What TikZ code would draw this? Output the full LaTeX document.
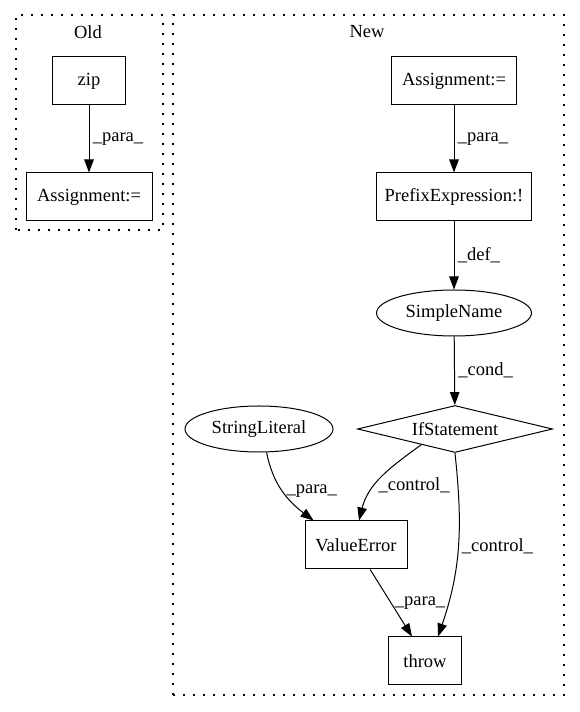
\documentclass[tikz,border=0pt]{standalone}
\usepackage{fontspec}
\setmainfont{Liberation Serif}
\usetikzlibrary{shapes.geometric,arrows.meta}

\begin{document}
\begin{tikzpicture}[x=1pt,y=1pt,
        every node/.style={font=\fontsize{18.5}{22}\selectfont},
        box/.style={shape=rectangle,draw=black,line width=1pt,minimum height=48pt,inner sep=0pt},
        oval/.style={shape=ellipse,draw=black,line width=1pt,minimum height=46pt,inner sep=0pt},
        cluster/.style={draw=black,line width=1.1pt,dash pattern=on 2pt off 8pt},
        link/.style={-{Triangle[length=13pt,width=9.5pt]},line width=1pt}]
                \useasboundingbox (0,0) rectangle (580,712);

                % old version
                \draw[cluster] (16,482) rectangle (163,697);
                \node (oldlabel) at (88,680) {Old};
                \node[box, minimum width=73pt] (zip) at (89,631) {zip};
                \node[box, minimum width=126pt] (asgold) at (89,515) {Assignment:=};

                % new version
                \draw[cluster] (173,17) rectangle (564,697);
                \node (newlabel) at (367,680) {New};
                \node[box, minimum width=125pt] (asgnew) at (454,631) {Assignment:=};
                \node[box, minimum width=155pt] (prefix) at (454,515) {PrefixExpression:!};
                \node[oval, minimum width=155pt] (simple) at (454,399) {SimpleName};
                \node[shape=diamond,draw=black,line width=1pt,aspect=4,inner sep=0pt,
                      minimum width=195pt,minimum height=47pt] (ifst) at (455,283) {IfStatement};
                \node[oval, minimum width=148pt] (strlit) at (259,283) {StringLiteral};
                \node[box, minimum width=102pt] (valerr) at (356,167) {ValueError};
                \node[box, minimum width=73pt] (throw) at (425,51) {throw};

                \draw[link] (zip) to node[right] {\_para\_} (asgold);

                \draw[link] (asgnew) to node[right] {\_para\_} (prefix);
                \draw[link] (prefix) to node[right] {\_def\_} (simple);
                \draw[link] (simple) to node[right] {\_cond\_} (ifst);

                \draw[link] (strlit.-72) to[out=-79,in=143] node[right] {\_para\_} (valerr.150);
                \draw[link] (ifst.-155) to[out=-144,in=76] node[pos=0.62,right] {\_control\_} (valerr.83);
                \draw[link] (ifst.south) to[out=-84,in=71] node[right] {\_control\_} (throw.62);

                \draw[link] (valerr.-60) to node[right] {\_para\_} (throw.118);
            \end{tikzpicture}
\end{document}
